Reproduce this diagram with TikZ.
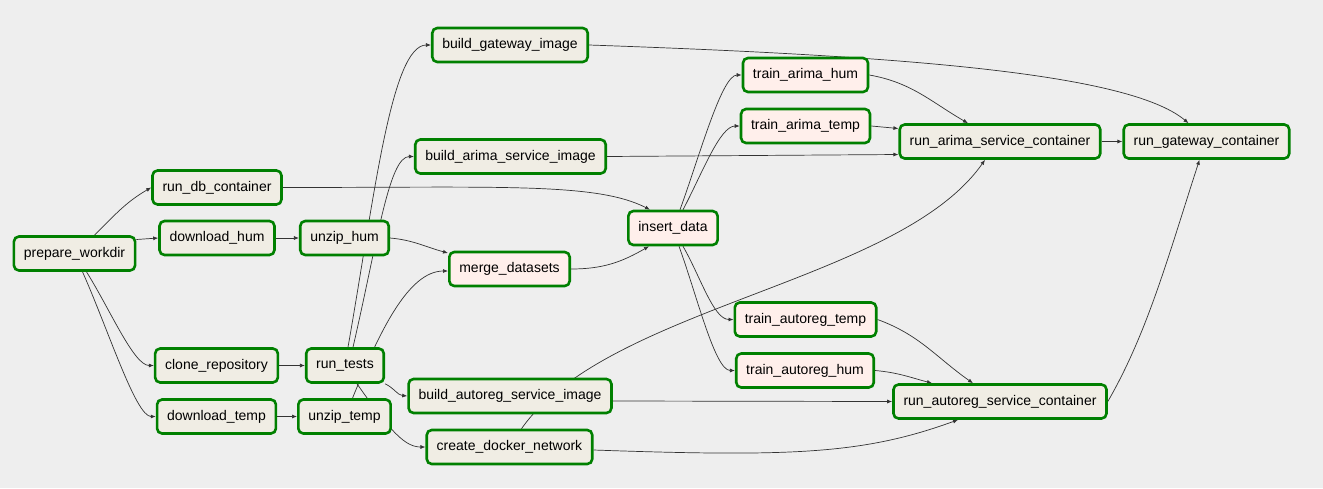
\documentclass[tikz,border=0pt]{standalone}
\usepackage{fontspec}
\setmainfont{Liberation Sans}
\usetikzlibrary{arrows.meta, backgrounds}
\definecolor{bashfill}{HTML}{F0EDE4}
\definecolor{pyfill}{HTML}{FFEFEB}
\definecolor{taskgreen}{HTML}{008000}
\definecolor{canvas}{HTML}{EEEEEE}
\definecolor{wire}{HTML}{333333}

\begin{document}
\begin{tikzpicture}[x=1pt, y=-1pt,
    task/.style={rectangle, draw=taskgreen, line width=2.6pt, fill=#1, rounded corners=5pt,
                 minimum height=34pt, inner xsep=10pt, font=\fontsize{14}{16}\selectfont},
    task/.default=bashfill,
    edge/.style={-{Latex[length=5pt,width=4pt]}, line width=0.7pt, wire}
]
    \useasboundingbox (0,0) rectangle (1323,488);
    \begin{scope}[on background layer]
        \fill[canvas] (0,0) rectangle (1323,488);
    \end{scope}

    % Preparation
    \node[task] (prepare_workdir) at (74.5,253.5) {prepare\_workdir};
    \node[task] (run_db_container) at (217,187.5) {run\_db\_container};
    \node[task] (download_hum) at (217,238) {download\_hum};
    \node[task] (clone_repository) at (216.5,365.5) {clone\_repository};
    \node[task] (download_temp) at (216.5,416.5) {download\_temp};
    \node[task] (unzip_hum) at (344.5,238) {unzip\_hum};
    \node[task] (run_tests) at (345,365.5) {run\_tests};
    \node[task] (unzip_temp) at (344.5,416.5) {unzip\_temp};

    % Images and data
    \node[task] (build_gateway_image) at (510,45) {build\_gateway\_image};
    \node[task] (build_arima_service_image) at (510.5,156.5) {build\_arima\_service\_image};
    \node[task=pyfill] (merge_datasets) at (509.5,269) {merge\_datasets};
    \node[task] (build_autoreg_service_image) at (510,396) {build\_autoreg\_service\_image};
    \node[task] (create_docker_network) at (509.5,447) {create\_docker\_network};
    \node[task=pyfill] (insert_data) at (673,228) {insert\_data};

    % Training
    \node[task=pyfill] (train_arima_hum) at (805.5,75) {train\_arima\_hum};
    \node[task=pyfill] (train_arima_temp) at (805.5,126) {train\_arima\_temp};
    \node[task=pyfill] (train_autoreg_temp) at (805.5,319.5) {train\_autoreg\_temp};
    \node[task=pyfill] (train_autoreg_hum) at (805,370.5) {train\_autoreg\_hum};

    % Services
    \node[task] (run_arima_service_container) at (1000,141.5) {run\_arima\_service\_container};
    \node[task] (run_gateway_container) at (1206.5,141.5) {run\_gateway\_container};
    \node[task] (run_autoreg_service_container) at (1000,401.5) {run\_autoreg\_service\_container};

    \begin{scope}[on background layer]
    % Preparation edges
    \draw[edge] ([xshift=20pt]prepare_workdir.north) to[out=45,in=-150] (run_db_container.west);
    \draw[edge] ([yshift=14pt]prepare_workdir.east) -- (download_hum.west);
    \draw[edge] ([xshift=12pt]prepare_workdir.south) to[out=-58,in=180,in distance=20pt] (clone_repository.west);
    \draw[edge] ([xshift=8pt]prepare_workdir.south) to[out=-66,in=180,in distance=20pt] (download_temp.west);
    \draw[edge] (download_hum) -- (unzip_hum);
    \draw[edge] (clone_repository) -- (run_tests);
    \draw[edge] (download_temp) -- (unzip_temp);

    % Tests, images and data
    \draw[edge] ([xshift=3pt]run_tests.north) to[out=80,in=180,out distance=150pt,in distance=40pt] (build_gateway_image.west);
    \draw[edge] ([xshift=8pt]run_tests.north) to[out=77,in=180,out distance=110pt,in distance=25pt] (build_arima_service_image.west);
    \draw[edge] (run_tests.south east) to[out=-25,in=175] (build_autoreg_service_image.west);
    \draw[edge] ([xshift=12pt]run_tests.south) to[out=-55,in=180,out distance=60pt,in distance=20pt] (create_docker_network.west);
    \draw[edge] (unzip_hum.east) to[out=-5,in=165] ([yshift=16pt]merge_datasets.west);
    \draw[edge] ([xshift=8pt]unzip_temp.north) to[out=68,in=180,out distance=70pt,in distance=40pt] ([yshift=-2pt]merge_datasets.west);
    \draw[edge] (merge_datasets.east) to[out=0,in=-150] ([xshift=-24pt]insert_data.south);
    \draw[edge] (run_db_container.east) to[out=0,in=153,out distance=220pt,in distance=60pt] ([xshift=-23pt]insert_data.north);

    % Training edges
    \draw[edge] ([xshift=7pt]insert_data.north) to[out=70,in=180,in distance=20pt] (train_arima_hum.west);
    \draw[edge] ([xshift=10pt]insert_data.north) to[out=62,in=180,in distance=20pt] (train_arima_temp.west);
    \draw[edge] ([xshift=10pt]insert_data.south) to[out=-60,in=180,in distance=20pt] (train_autoreg_temp.west);
    \draw[edge] ([xshift=6pt]insert_data.south) to[out=-70,in=180,in distance=20pt] (train_autoreg_hum.west);

    % Service edges
    \draw[edge] (train_arima_hum.east) to[out=-10,in=150] ([xshift=-32pt]run_arima_service_container.north);
    \draw[edge] (train_arima_temp.east) -- ([yshift=13pt]run_arima_service_container.west);
    \draw[edge] (build_arima_service_image.east) -- ([yshift=-13pt]run_arima_service_container.west);
    \draw[edge] ([xshift=12pt]create_docker_network.north) to[out=55,in=-125,out distance=150pt,in distance=150pt] ([xshift=-15pt]run_arima_service_container.south);
    \draw[edge] (train_autoreg_temp.east) to[out=-20,in=145] ([xshift=-27pt]run_autoreg_service_container.north);
    \draw[edge] (train_autoreg_hum.east) to[out=-5,in=165] ([xshift=-68pt]run_autoreg_service_container.north);
    \draw[edge] ([yshift=-5pt]build_autoreg_service_image.east) -- (run_autoreg_service_container.west);
    \draw[edge] ([yshift=-3pt]create_docker_network.east) to[out=-2,in=-160,out distance=200pt,in distance=100pt] ([xshift=-42pt]run_autoreg_service_container.south);

    % Gateway edges
    \draw[edge] (build_gateway_image.east) to[out=-2,in=140,out distance=300pt,in distance=80pt] ([xshift=-18pt]run_gateway_container.north);
    \draw[edge] (run_arima_service_container) -- (run_gateway_container);
    \draw[edge] (run_autoreg_service_container.east) to[out=60,in=-108,out distance=80pt,in distance=100pt] ([xshift=-7pt]run_gateway_container.south);
    \end{scope}
\end{tikzpicture}
\end{document}
